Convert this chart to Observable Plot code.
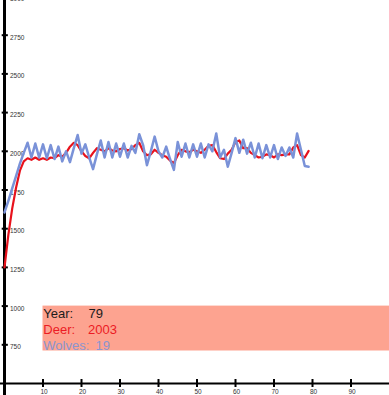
<!DOCTYPE html>
<html>
<head>
<meta charset="utf-8">
<script src="https://cdn.jsdelivr.net/npm/d3@7"></script>
<script src="https://cdn.jsdelivr.net/npm/@observablehq/plot@0.6"></script>
<style>
  html, body { margin: 0; padding: 0; background: #fff; overflow: hidden; }
</style>
</head>
<body>
<div id="chart"></div>
<script>
// Deer population per year (years 0..79)
const deer = [
  1250,1460,1630,1765,1875,1935,1955,1945,1960,1945,
  1955,1945,1960,1955,1975,1965,1990,2030,2055,2040,
  2000,1970,1955,1990,2020,2010,2000,2020,2005,2000,
  2015,2020,2005,2015,2040,2055,2000,1975,1980,2010,
  1990,1975,1965,1940,1925,1975,2010,2000,1995,2010,
  2000,1990,2010,2035,2040,1995,1955,1950,1985,2010,
  2060,2070,2020,2020,1990,1975,1960,1965,1980,1975,
  1960,1980,1975,1980,1980,2025,2040,1975,1960,2003
];
// Wolf population per year (plotted ×100 on the same axis)
const wolves = [
  16.05,16.8,17.6,18.4,19.2,19.9,20.55,19.6,20.5,19.6,
  20.45,19.55,20.4,19.5,20.3,19.35,20.0,19.3,20.2,21.05,
  19.85,20.45,19.6,18.85,19.8,20.7,19.6,20.6,19.6,20.5,
  19.65,20.5,19.6,20.35,19.9,21.1,20.4,19.1,20.0,20.95,
  20.0,19.6,20.3,19.5,18.8,20.6,19.65,20.5,19.6,20.45,
  19.65,20.5,19.6,20.45,20.0,21.15,19.6,20.1,19.0,19.9,
  20.85,19.9,20.75,19.85,20.55,19.6,20.5,19.55,20.4,19.6,
  20.4,19.5,20.25,19.7,20.25,19.6,21.15,20.1,19.05,19.0
];
const wolfScale = 100;
const xTicks = [10, 20, 30, 40, 50, 60, 70, 80, 90];
const yTicks = [750, 1000, 1250, 1500, 1750, 2000, 2250, 2500, 2750, 3000];
const infoYear = 79;
const infoDeer = 2003;
const infoWolves = 19;

const RED = "#e8121c";
const BLUE = "#7a92d8";

const data = deer.map((d, i) => ({year: i, deer: d, wolves: wolves[i] * wolfScale}));

const infoRows = [
  {label: "Year:", value: String(infoYear), color: "#1c1c1c", dy: 11.6, valueDx: 45.5},
  {label: "Deer:", value: String(infoDeer), color: "#ec1b24", dy: 27.6, valueDx: 45},
  {label: "Wolves:", value: String(infoWolves), color: "#8b95cf", dy: 43.6, valueDx: 52.5}
];

const font = "'Liberation Sans', Arial, Helvetica, sans-serif";

const marks = [
  // info box
  Plot.rect([0], {x1: 10, x2: 101, y1: 710, y2: 1000, fill: "#fda390"}),
  // axes lines
  Plot.ruleY([500], {x1: -1.2, x2: 101, stroke: "#000", strokeWidth: 2}),
  Plot.ruleX([0], {y1: 420, y2: 3100, stroke: "#000", strokeWidth: 3}),
  // ticks
  Plot.ruleX(xTicks, {x: d => d, y1: 474, y2: 526, stroke: "#000", strokeWidth: 2}),
  Plot.ruleY(yTicks, {y: d => d, x1: -0.6, x2: 1.0, stroke: "#000", strokeWidth: 2}),
  Plot.text(yTicks, {x: 0, y: d => d, text: d => String(d), dx: 5.5, dy: 2.5, textAnchor: "start", fontSize: 6.5, fill: "#333"}),
  Plot.text(xTicks, {x: d => d, y: 500, text: d => String(d), dx: 1, dy: 8, fontSize: 6.5, fill: "#333"}),
  // series
  Plot.line(data, {x: "year", y: "deer", stroke: RED, strokeWidth: 2.2}),
  Plot.line(data, {x: "year", y: "wolves", stroke: BLUE, strokeWidth: 2.5}),
  // info text
  Plot.text(infoRows, {x: 10, y: 1000, text: "label", fill: "color", dy: d => 0, textAnchor: "start", lineAnchor: "bottom", fontSize: 13})
];

// per-row offsets (Plot's dx/dy are constants, so one mark per row)
const rowMarks = [];
for (const r of infoRows) {
  rowMarks.push(Plot.text([r], {x: 10, y: 1000, text: "label", fill: r.color, dy: r.dy, dx: 0.3, textAnchor: "start", lineAnchor: "bottom", fontSize: 13}));
  rowMarks.push(Plot.text([r], {x: 10, y: 1000, text: "value", fill: r.color, dy: r.dy, dx: r.valueDx, textAnchor: "start", lineAnchor: "bottom", fontSize: 13}));
}
marks.pop();

const chart = Plot.plot({
  width: 389,
  height: 395,
  marginLeft: 4,
  marginRight: 0,
  marginTop: -4,
  marginBottom: 12,
  x: {domain: [0, 100], axis: null},
  y: {domain: [500, 3000], axis: null},
  style: {fontFamily: font, background: "#fff"},
  marks: [...marks, ...rowMarks]
});
document.getElementById("chart").appendChild(chart);
</script>
</body>
</html>
